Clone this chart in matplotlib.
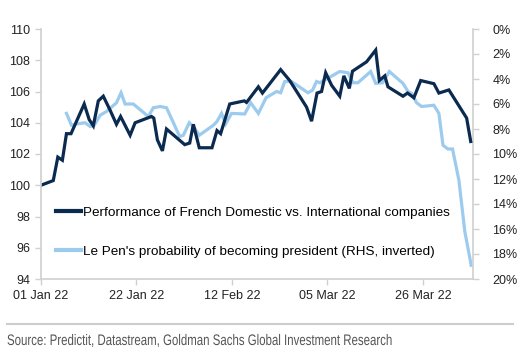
import matplotlib
matplotlib.use("Agg")
import matplotlib.pyplot as plt
import matplotlib.dates as mdates
from matplotlib.ticker import FuncFormatter
from matplotlib import patheffects
from matplotlib.transforms import Affine2D
import datetime as dt
import numpy as np

# Data: day offsets from 01 Jan 2022
perf_days = [0, 2.7, 3.7, 4.7, 5.6, 6.6, 9.5, 10.6, 11.5, 12.6, 13.7, 15.2, 16.6, 17.5,
             19.6, 20.7, 24.3, 24.8, 25.6, 26.7, 27.6, 31.6, 32.7, 33.5, 34.8, 37.6,
             38.7, 39.5, 41.5, 44.7, 45.2, 47.8, 48.7, 52.7, 54.7, 58.4, 59.5, 60.7,
             61.7, 62.6, 63.9, 65.7, 66.6, 67.8, 68.5, 71.6, 73.6, 74.4, 75.6, 76.3,
             79.6, 80.6, 82.0, 83.5, 86.4, 87.5, 89.7, 93.6, 94.5]
perf_vals = [100.0, 100.3, 101.8, 101.6, 103.3, 103.3, 105.2, 104.2, 103.8, 105.4, 105.7,
             104.8, 103.9, 104.4, 103.2, 104.0, 104.4, 104.3, 102.9, 102.2, 103.6, 102.6,
             102.7, 103.9, 102.4, 102.4, 103.5, 103.3, 105.2, 105.4, 105.3, 106.3, 105.9,
             107.4, 106.7, 105.0, 104.1, 105.9, 106.0, 107.2, 106.4, 105.7, 107.0, 106.2,
             107.3, 107.9, 108.65, 106.7, 107.0, 106.3, 105.7, 105.9, 105.6, 106.7, 106.5,
             105.9, 106.1, 104.3, 102.8]

lepen_days = [5.6, 6.7, 7.8, 9.7, 10.8, 11.7, 13.0, 14.4, 16.6, 17.6, 18.5, 20.3, 23.6,
              24.7, 26.2, 27.6, 30.5, 31.3, 32.6, 33.5, 34.8, 37.9, 38.7, 39.7, 40.6,
              41.9, 44.8, 46.1, 47.8, 49.5, 51.8, 52.7, 53.6, 55.1, 58.7, 59.7, 60.6,
              61.3, 65.7, 67.5, 68.6, 69.7, 72.5, 73.6, 75.1, 76.6, 79.6, 80.7, 81.5,
              82.6, 83.7, 86.4, 87.5, 88.4, 89.5, 90.5, 91.9, 93.2, 94.6]
lepen_pct = [6.75, 7.7, 7.6, 7.5, 7.8, 7.7, 6.9, 6.6, 5.9, 5.1, 6.0, 6.0, 7.0, 6.3, 6.2,
             6.3, 8.6, 8.5, 7.5, 7.8, 8.5, 7.7, 7.4, 6.75, 7.6, 6.75, 6.8, 5.9, 6.75, 5.5,
             5.0, 5.1, 4.2, 4.2, 5.1, 4.9, 4.2, 4.3, 3.4, 3.5, 4.3, 4.3, 3.4, 4.35, 4.3,
             3.4, 4.35, 5.0, 5.15, 5.9, 6.2, 6.1, 6.75, 9.3, 9.6, 9.6, 12.1, 16.2, 18.9]

tick_dates = ["2022-01-01", "2022-01-22", "2022-02-12", "2022-03-05", "2022-03-26"]
left_ticks = [94, 96, 98, 100, 102, 104, 106, 108, 110]
right_ticks = [0, 2, 4, 6, 8, 10, 12, 14, 16, 18, 20]

label_perf = "Performance of French Domestic vs. International companies"
label_lepen = "Le Pen's probability of becoming president (RHS, inverted)"
source = "Source: Predictit, Datastream, Goldman Sachs Global Investment Research"

plt.rcParams['font.family'] = ['Liberation Sans', 'DejaVu Sans']


class HScale(patheffects.AbstractPathEffect):
    """Horizontally condense text glyphs about a fixed x (display px)."""
    def __init__(self, sx, x0):
        super().__init__()
        self.sx = sx
        self.x0 = x0

    def draw_path(self, renderer, gc, tpath, affine, rgbFace=None):
        aff = affine + Affine2D().translate(-self.x0, 0).scale(self.sx, 1).translate(self.x0, 0)
        renderer.draw_path(gc, tpath, aff, rgbFace)


base = mdates.date2num(dt.datetime(2022, 1, 1))
x_perf = base + np.array(perf_days)
x_lepen = base + np.array(lepen_days)

W, H = 520, 362
fig = plt.figure(figsize=(W / 100, H / 100), dpi=100)
ax = fig.add_axes([41 / W, 1 - 279 / H, (473 - 41) / W, (279 - 29) / H])
ax2 = ax.twinx()

dark = "#0b2a4f"
light = "#9ccbee"
gray = "#d0d0d0"

l2, = ax2.plot(x_lepen, lepen_pct, color=light, lw=2.3, solid_joinstyle='miter')
l1, = ax.plot(x_perf, perf_vals, color=dark, lw=2.3, solid_joinstyle='miter')
ax.set_zorder(ax2.get_zorder() + 1)
ax.patch.set_visible(False)

ax.set_ylim(94, 110)
ax.set_yticks(left_ticks)
ax2.set_ylim(20, 0)
ax2.set_yticks(right_ticks)
ax2.yaxis.set_major_formatter(FuncFormatter(lambda v, p: f"{v:.0f}%"))

ax.set_xlim(base, base + 95)
ax.set_xticks([mdates.date2num(dt.datetime.strptime(d, "%Y-%m-%d")) for d in tick_dates])
ax.xaxis.set_major_formatter(mdates.DateFormatter("%d %b %y"))

for a in (ax, ax2):
    for s in a.spines.values():
        s.set_visible(False)
ax.spines['left'].set_visible(True)
ax.spines['bottom'].set_visible(True)
ax2.spines['right'].set_visible(True)
for s in (ax.spines['left'], ax.spines['bottom'], ax2.spines['right']):
    s.set_color(gray)
    s.set_linewidth(1.2)

ax.tick_params(axis='both', colors=gray, labelcolor='#222222', labelsize=9, length=4, width=1)
ax.tick_params(axis='y', pad=4)
ax.tick_params(axis='x', pad=4)
ax2.tick_params(axis='y', colors=gray, labelcolor='#222222', labelsize=9, length=4, width=1, pad=10)

leg = ax.legend([l1, l2], [label_perf, label_lepen], loc='upper left',
                bbox_to_anchor=(0.034, 0.29), frameon=False, fontsize=9.7,
                handlelength=1.9, handletextpad=0.1, labelspacing=1.95,
                borderpad=0, borderaxespad=0)
for h in leg.get_lines():
    h.set_linewidth(3)

fig.add_artist(plt.Line2D([7 / W, 513 / W], [1 - 324 / H, 1 - 324 / H],
                          color='#cccccc', lw=1.5, transform=fig.transFigure))
fig.text(7 / W, 1 - 341 / H, source, fontsize=11, color='#555555', va='center', ha='left',
         path_effects=[HScale(0.75, 7)])

fig.savefig("out.png", dpi=100)
